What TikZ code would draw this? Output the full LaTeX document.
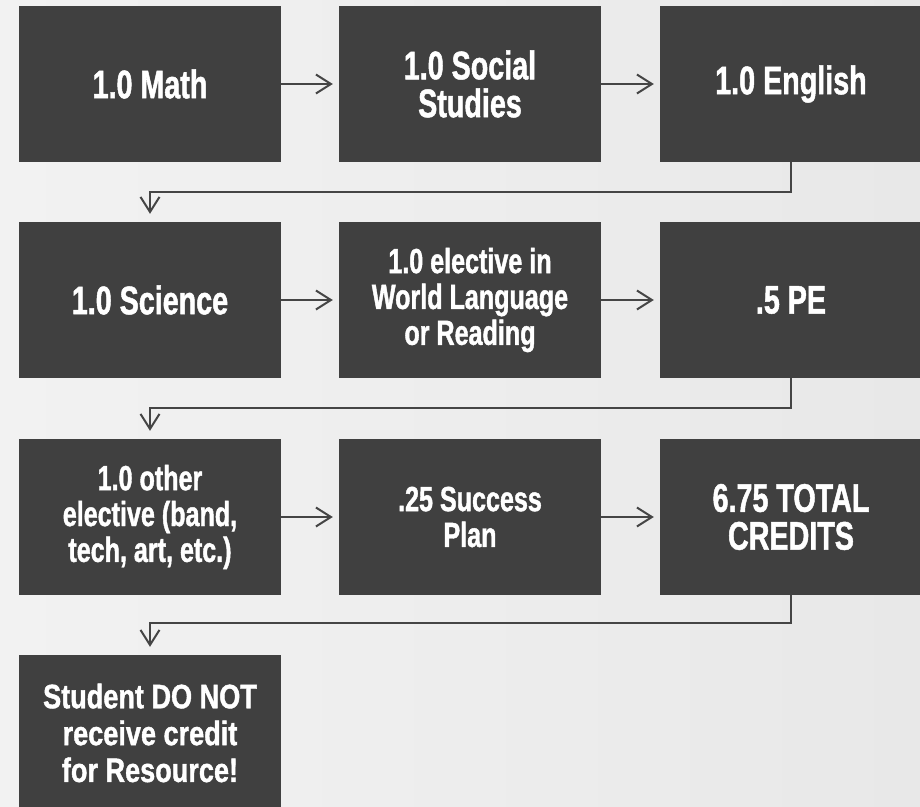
\documentclass[tikz,border=0pt]{standalone}
\usepackage{fontspec}
\usetikzlibrary{arrows.meta}
\newfontfamily\boxfont[FakeStretch=0.72,FakeBold=1.2]{Liberation Sans Bold}
\newfontfamily\notefont[FakeStretch=0.8,FakeBold=1.2]{Liberation Sans Bold}
\definecolor{bgleft}{HTML}{F2F2F2}
\definecolor{bgright}{HTML}{E8E8E8}
\definecolor{boxc}{HTML}{404040}
\definecolor{linec}{HTML}{454545}
\begin{document}
\begin{tikzpicture}[x=1bp,y=-1bp,
  box/.style={fill=boxc, text=white, minimum width=262bp, minimum height=156bp,
    inner sep=0pt, align=center, font=\boxfont\fontsize{40}{38}\selectfont},
  smalltext/.style={font=\boxfont\fontsize{35}{36}\selectfont},
  notetext/.style={font=\notefont\fontsize{34}{37}\selectfont},
  conn/.style={draw=linec, line width=2bp, -{Straight Barb[length=15bp,width=19bp,line width=2bp]}}]
\useasboundingbox (0,0) rectangle (920,807);
\shade[left color=bgleft, right color=bgright] (0,0) rectangle (920,807);
\clip (0,0) rectangle (920,807);
% row 1
\node[box] (math) at (150,84) {1.0 Math};
\node[box] (soc) at (470,84) {1.0 Social\\Studies};
\node[box] (eng) at (791,84) {1.0 English};
% row 2
\node[box] (sci) at (150,300) {1.0 Science};
\node[box,smalltext] (wl) at (470,300) {1.0 elective in\\World Language\\or Reading};
\node[box] (pe) at (791,300) {.5 PE};
% row 3
\node[box,smalltext] (oth) at (150,517) {1.0 other\\elective (band,\\tech, art, etc.)};
\node[box,smalltext] (suc) at (470,517) {.25 Success\\Plan};
\node[box] (tot) at (791,517) {6.75 TOTAL\\CREDITS};
% row 4
\node[box,notetext] (note) at (150,733) {Student DO NOT\\receive credit\\for Resource!};
% connectors
\draw[conn] (math.east) -- ([xshift=-6bp]soc.west);
\draw[conn] (soc.east) -- ([xshift=-6bp]eng.west);
\draw[conn] (sci.east) -- ([xshift=-6bp]wl.west);
\draw[conn] (wl.east) -- ([xshift=-6bp]pe.west);
\draw[conn] (oth.east) -- ([xshift=-6bp]suc.west);
\draw[conn] (suc.east) -- ([xshift=-6bp]tot.west);
\draw[conn] (eng.south) -- ++(0,30) -| ([yshift=8bp]sci.north);
\draw[conn] (pe.south) -- ++(0,30) -| ([yshift=8bp]oth.north);
\draw[conn] (tot.south) -- ++(0,28) -| ([yshift=8bp]note.north);
\end{tikzpicture}
\end{document}
